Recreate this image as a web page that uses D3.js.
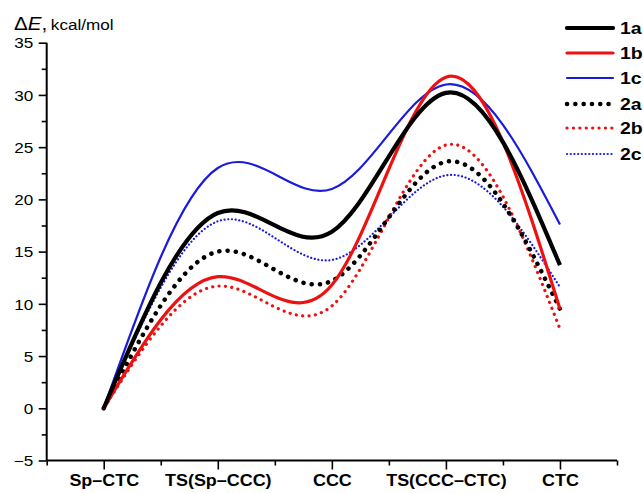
<!DOCTYPE html>
<html><head><meta charset="utf-8">
<script src="https://cdn.jsdelivr.net/npm/d3@7"></script>
<style>body{margin:0;background:#fff}svg{display:block}text{font-family:"Liberation Sans",Arial,sans-serif}</style>
</head><body><svg id="c" width="643" height="493"></svg>
<script>
const categories = ["Sp–CTC","TS(Sp–CCC)","CCC","TS(CCC–CTC)","CTC"];
const yTicks = [-5,0,5,10,15,20,25,30,35];
const s1a = [0, 18.7, 16.9, 30.2, 13.7];
const s1b = [0, 12.6, 11.8, 31.7, 9.5];
const s1c = [0, 23.0, 21.0, 31.0, 17.6];
const s2a = [0, 15.0, 12.2, 23.6, 9.5];
const s2b = [0, 11.7, 9.8, 25.2, 7.6];
const s2c = [0, 17.9, 14.2, 22.3, 11.6];
const seriesNames = ["1a","1b","1c","2a","2b","2c"];
const seriesData = [s1a,s1b,s1c,s2a,s2b,s2c];
const styles = [
  {color:"#000000", w:4.2, dash:null},
  {color:"#ee1111", w:3.2, dash:null},
  {color:"#1a1adc", w:2.2, dash:null},
  {color:"#000000", w:4.5, dash:"0.1 8.2"},
  {color:"#ee1111", w:3.2, dash:"0.1 6.3"},
  {color:"#1a1adc", w:2.2, dash:"0.1 3.6"}
];
const SX = 1.18;
const svg = d3.select("#c");
const x = d3.scaleLinear().domain([0,10]).range([46.7,617]);
const y = d3.scaleLinear().domain([-5,35]).range([460.5,42.7]);
const pos = i => 2*i+1;

// axes
const gy = svg.append("g").attr("transform",`translate(${x(0)},0)`)
  .call(d3.axisLeft(y).tickValues(d3.range(-5,35.01,2.5)).tickSize(8).tickFormat(d=> yTicks.includes(d)? String(d).replace("-","−") : ""));
gy.selectAll(".tick line").attr("x2", d=> yTicks.includes(d)? -8 : -5).attr("stroke-width",1.6);
gy.select(".domain").attr("stroke-width",2).attr("d",`M0,${y(-5)}V${y(35)}`);
gy.selectAll("text").attr("font-size",14.5).attr("x",-13.5/SX).attr("dy","0.36em").attr("fill","#000")
  .attr("transform",`scale(${SX},1)`);

const gx = svg.append("g").attr("transform",`translate(0,${y(-5)})`)
  .call(d3.axisBottom(x).tickValues(d3.range(0,10.01,1)).tickSizeOuter(0).tickFormat(d=> d%2===1? categories[(d-1)/2] : ""));
gx.selectAll(".tick line").attr("y2", d=> d%2===1? 9 : 5).attr("stroke-width",1.6);
gx.select(".domain").attr("stroke-width",2).attr("d",`M${x(0)},0H${x(10)}`);
gx.selectAll("text").attr("font-size",16.3).attr("font-weight","bold").attr("y",26).attr("dy",0).attr("fill","#000")
  .attr("transform","scale(1.1,1)");

// title
const t = svg.append("text").attr("x",14/SX).attr("y",30).attr("fill","#000").attr("transform",`scale(${SX},1)`);
t.append("tspan").attr("font-size",17.5).text("Δ");
t.append("tspan").attr("font-size",17.5).attr("font-style","italic").text("E");
t.append("tspan").attr("font-size",17.5).text(",");
t.append("tspan").attr("font-size",14.5).attr("dx",3).text("kcal/mol");

// lines
const line = d3.line().x((d,i)=>x(pos(i))).y(d=>y(d)).curve(d3.curveNatural);
[5,4,3,2,1,0].forEach(k=>{
  const st = styles[k];
  svg.append("path").datum(seriesData[k]).attr("d",line).attr("fill","none")
    .attr("stroke",st.color).attr("stroke-width",st.w)
    .attr("stroke-linecap", st.dash? "round":"butt")
    .attr("stroke-dasharray", st.dash);
});

// legend
const ly = [28,53,78,104,128,154];
seriesNames.forEach((n,k)=>{
  const st = styles[k];
  svg.append("line").attr("x1",567).attr("x2",613).attr("y1",ly[k]).attr("y2",ly[k])
    .attr("stroke",st.color).attr("stroke-width",st.w)
    .attr("stroke-linecap","round").attr("stroke-dasharray",st.dash);
  svg.append("text").attr("x",620/SX).attr("y",ly[k]).attr("dy","0.36em").attr("font-size",16.5).attr("font-weight","bold")
    .attr("fill","#000").attr("transform",`scale(${SX},1)`).text(n);
});
</script></body></html>
